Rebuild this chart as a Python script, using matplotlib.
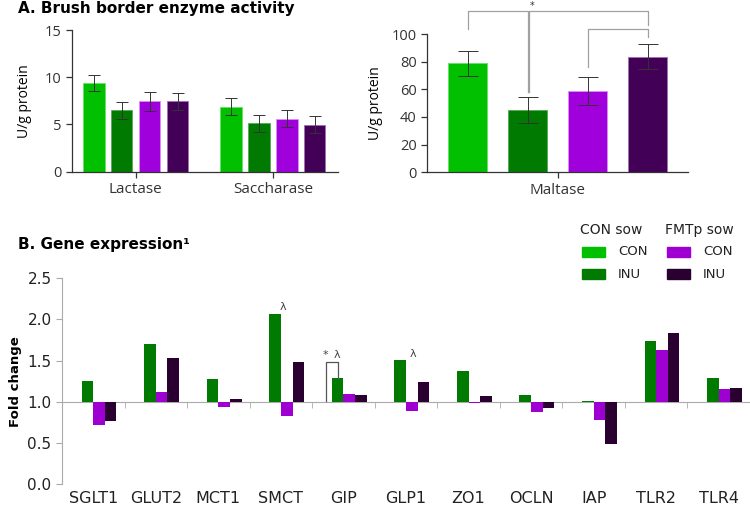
import numpy as np
import matplotlib
matplotlib.use("Agg")
import matplotlib.pyplot as plt
from matplotlib.patches import Rectangle

# Panel A data: brush border enzyme activity (U/g protein)
enzymes_left = ["Lactase", "Saccharase"]
groups = ["CON sow CON", "CON sow INU", "FMTp sow CON", "FMTp sow INU"]
lactase_mean = [9.35, 6.5, 7.45, 7.45]
lactase_err = [0.85, 0.9, 1.0, 0.9]
saccharase_mean = [6.88, 5.12, 5.6, 4.97]
saccharase_err = [0.9, 0.9, 0.9, 0.9]
maltase_mean = [78.8, 45.0, 58.6, 83.6]
maltase_err = [9.0, 9.5, 10.0, 9.0]

# Panel B data: gene expression, fold change vs CON sow CON (=1.0)
genes = ["SGLT1", "GLUT2", "MCT1", "SMCT", "GIP", "GLP1", "ZO1", "OCLN", "IAP", "TLR2", "TLR4"]
con_con = [1.0] * 11
con_inu = [1.256, 1.707, 1.272, 2.068, 1.284, 1.512, 1.37, 1.077, 1.012, 1.732, 1.293]
fmt_con = [0.723, 1.117, 0.939, 0.829, 1.089, 0.885, 0.988, 0.878, 0.78, 1.629, 1.159]
fmt_inu = [0.763, 1.528, 1.028, 1.479, 1.08, 1.244, 1.073, 0.927, 0.491, 1.841, 1.171]

colors_a = ["#00c000", "#007a00", "#a000dc", "#420056"]
edges_a = ["#66e066", "#55aa55", "#d890f0", "#a070b0"]
colors_b = ["#00c000", "#007a00", "#9e00d2", "#2a0030"]

W, H = 750, 507
fig = plt.figure(figsize=(7.5, 5.07), dpi=100)


def box(x0, y0, x1, y1):
    # pixel box (top-left origin) -> figure rect
    return [x0 / W, 1 - y1 / H, (x1 - x0) / W, (y1 - y0) / H]


afont = "Open Sans"
dark = "#333333"

# ---- Panel A left ----
ax1 = fig.add_axes(box(72, 30, 337.7, 171.7))
pitch, bw = 0.2036, 0.156
data_left = [lactase_mean, saccharase_mean]
err_left = [lactase_err, saccharase_err]
for i in range(4):
    xs = np.arange(2) + (i - 1.5) * pitch
    ax1.bar(xs, [d[i] for d in data_left], bw, color=colors_a[i],
            edgecolor=edges_a[i], linewidth=0.6,
            yerr=[e[i] for e in err_left], capsize=4.5,
            error_kw=dict(ecolor=dark, elinewidth=0.7, capthick=0.7))
ax1.set_xlim(-0.465, 1.473)
ax1.set_ylim(0, 15)
ax1.set_yticks([0, 5, 10, 15])
ax1.set_xticks([0, 1])
ax1.set_xticklabels(enzymes_left, fontsize=11, family=afont)
ax1.set_ylabel("U/g protein", fontsize=10, family=afont, labelpad=9)

# ---- Panel A right ----
ax2 = fig.add_axes(box(427, 34, 687.7, 172.3))
ax2.bar(np.arange(4), maltase_mean, 0.66, color=colors_a, edgecolor=edges_a,
        linewidth=0.6, yerr=maltase_err, capsize=7,
        error_kw=dict(ecolor=dark, elinewidth=0.7, capthick=0.7))
ax2.set_xlim(-0.675, 3.67)
ax2.set_ylim(0, 100)
ax2.set_yticks(np.arange(0, 101, 20))
ax2.set_xticks([1.5])
ax2.set_xticklabels(["Maltase"], fontsize=11, family=afont)
ax2.set_ylabel("U/g protein", fontsize=10, family=afont, labelpad=6)

for ax in (ax1, ax2):
    for s in ("top", "right"):
        ax.spines[s].set_visible(False)
    for s in ("left", "bottom"):
        ax.spines[s].set_color(dark)
        ax.spines[s].set_linewidth(0.9)
    ax.tick_params(colors=dark, width=0.9, length=4)
    ax.tick_params(axis="y", labelsize=10.5)
    for t in ax.get_yticklabels():
        t.set_family(afont)

# significance brackets on maltase
brackets = [
    ([0, 0, 1, 1], [103.6, 116.8, 116.8, 58.3]),
    ([1.03, 1.03, 3, 3], [58.3, 116.8, 116.8, 106.5]),
    ([2, 2, 3, 3], [76.4, 103.4, 103.4, 97.6]),
]
for bx, by in brackets:
    ax2.plot(bx, by, color="#a0a0a0", lw=0.9, clip_on=False)
ax2.text(1.07, 120.5, "*", fontsize=7, ha="center", va="center", color=dark)

fig.text(18 / W, 1 - 8 / H, "A. Brush border enzyme activity", fontsize=11,
         fontweight="bold", family="DejaVu Sans", va="center", ha="left")
fig.text(18 / W, 1 - 245 / H, "B. Gene expression\u00b9", fontsize=11,
         fontweight="bold", family="DejaVu Sans", va="center", ha="left")

# ---- Panel B ----
ax3 = fig.add_axes(box(62, 278.3, 750, 484))
gpitch = 0.1856
series_b = [con_con, con_inu, fmt_con, fmt_inu]
x = np.arange(len(genes))
for i, vals in enumerate(series_b):
    vals = np.array(vals)
    ax3.bar(x + (i - 1.5) * gpitch, vals - 1.0, gpitch, bottom=1.0,
            color=colors_b[i], edgecolor="none")
ax3.set_xlim(-0.5, len(genes) - 0.5)
ax3.set_ylim(0, 2.5)
ax3.set_yticks(np.arange(0, 2.51, 0.5))
ax3.set_yticklabels([f"{v:.1f}" for v in np.arange(0, 2.51, 0.5)])
for s in ("top", "right"):
    ax3.spines[s].set_visible(False)
ax3.spines["bottom"].set_position(("data", 1.0))
ax3.spines["bottom"].set_color("#aaaaaa")
ax3.spines["left"].set_color("#aaaaaa")
ax3.spines["bottom"].set_zorder(0)
ax3.set_xticks(x)
ax3.set_xticklabels(genes, fontsize=11.5, family="DejaVu Sans", color="#222222")
ax3.set_xticks(x[:-1] + 0.5, minor=True)
ax3.tick_params(axis="x", which="major", length=0, pad=64)
ax3.tick_params(axis="x", which="minor", length=4, color="#aaaaaa")
ax3.tick_params(axis="y", length=4, color="#aaaaaa", labelsize=11,
                labelcolor="#222222")
ax3.set_ylabel("Fold change", fontsize=9.5, fontweight="bold", labelpad=4)

# GIP bracket and markers
gx = 4
ax3.plot([gx - 1.5 * gpitch, gx - 1.5 * gpitch, gx - 0.5 * gpitch, gx - 0.5 * gpitch],
         [1.01, 1.48, 1.48, 1.29], color="#555555", lw=0.9)
ax3.text(gx - 0.29, 1.57, "*", fontsize=8, ha="center", va="center", color="#444444")
ax3.text(gx - 0.10, 1.57, "\u03bb", fontsize=8, ha="center", va="center", color="#444444")
ax3.text(3 + 0.036, 2.15, "\u03bb", fontsize=8, ha="center", va="center", color="#444444")
ax3.text(5 + 0.116, 1.585, "\u03bb", fontsize=8, ha="center", va="center", color="#444444")

# legend
hfont = dict(fontsize=10, family="DejaVu Sans", va="center", ha="left", color="#222222")
lfont = dict(fontsize=9.5, family="DejaVu Sans", va="center", ha="left", color="#222222")
fig.text(580 / W, 1 - 230 / H, "CON sow", **hfont)
fig.text(665 / W, 1 - 230 / H, "FMTp sow", **hfont)
rows = [(251.7, "CON"), (274, "INU")]
for col, px in enumerate([582, 667]):
    for r, (py, lab) in enumerate(rows):
        c = colors_b[col * 2 + r]
        fig.patches.append(Rectangle((px / W, 1 - (py + 4.8) / H), 23 / W, 9.7 / H,
                                     transform=fig.transFigure, color=c))
        fig.text((px + 36) / W, 1 - py / H, lab, **lfont)

fig.savefig("out.png", dpi=100)
